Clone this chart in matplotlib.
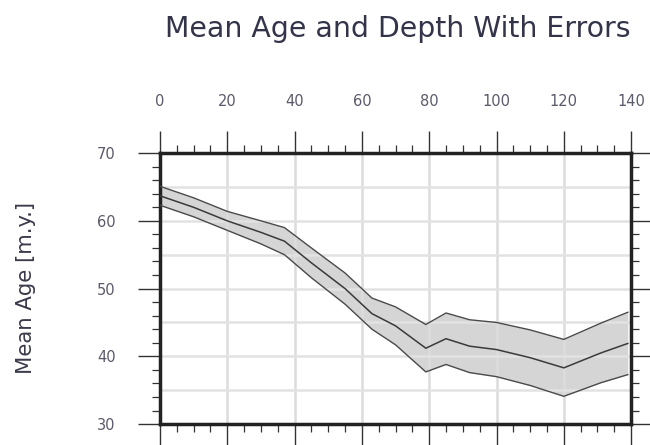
import matplotlib
matplotlib.use("Agg")
import matplotlib.pyplot as plt
import numpy as np
from matplotlib.ticker import MultipleLocator

plt.rcParams["font.family"] = ["DejaVu Sans"]

# Data
depth = [0, 10, 20, 30, 37, 45, 55, 63, 70, 79, 85, 92, 100, 110, 120, 131, 139]
mean_age = [63.7, 62.0, 60.0, 58.3, 57.0, 53.8, 50.0, 46.3, 44.5, 41.2, 42.6, 41.5, 41.0, 39.8, 38.3, 40.5, 41.9]
age_err = [1.4, 1.4, 1.4, 1.7, 2.0, 2.2, 2.3, 2.3, 2.8, 3.5, 3.8, 3.9, 4.0, 4.1, 4.2, 4.4, 4.6]

x_ticks = [0, 20, 40, 60, 80, 100, 120, 140]
y_ticks = [30, 40, 50, 60, 70]

title = "Mean Age and Depth With Errors"
ylabel = "Mean Age [m.y.]"

d = np.array(depth)
m = np.array(mean_age)
e = np.array(age_err)

fig = plt.figure(figsize=(6.5, 4.45), dpi=100)
ax = fig.add_axes([0.246, 0.047, 0.725, 0.609])

ax.set_xlim(0, 140)
ax.set_ylim(30, 70)

ax.fill_between(d, m - e, m + e, color="#c4c4c4", alpha=0.7, lw=0, zorder=1)
ax.plot(d, m + e, color="#4a4a4a", lw=1.0, zorder=3)
ax.plot(d, m - e, color="#4a4a4a", lw=1.0, zorder=3)
ax.plot(d, m, color="#3a3a3a", lw=1.1, zorder=3)

ax.set_xticks(x_ticks)
ax.set_yticks(y_ticks)
ax.xaxis.set_minor_locator(MultipleLocator(5))
ax.yaxis.set_minor_locator(MultipleLocator(2))

# grid
for gx in x_ticks:
    ax.axvline(gx, color="#dcdcdc", lw=1.8, zorder=2)
for gy in np.arange(30, 71, 5):
    ax.axhline(gy, color="#e2e2e2", lw=1.8, zorder=2)

ax.tick_params(which="both", direction="out", top=True, bottom=True, left=True, right=True,
               labeltop=True, labelbottom=False, labelleft=True, labelright=False,
               colors="#333333")
ax.tick_params(which="major", length=16, width=1.0, labelsize=10.5, pad=16)
ax.tick_params(which="minor", length=6, width=0.9)
for lab in ax.get_xticklabels() + ax.get_yticklabels():
    lab.set_color("#5a5a6a")

for sp in ax.spines.values():
    sp.set_linewidth(2.5)
    sp.set_color("#222222")

t = fig.text(0.612, 0.935, title, ha="center", va="center", fontsize=14, color="#33334a")
yl = fig.text(0.04, 0.35, ylabel, ha="center", va="center", rotation=90, fontsize=10, color="#3a3a4a")

# fit text extents to the reference proportions
fig.canvas.draw()
r = fig.canvas.get_renderer()
w = t.get_window_extent(r).width
t.set_fontsize(14 * 466.0 / w)
h = yl.get_window_extent(r).height
yl.set_fontsize(10 * 173.0 / h)
yl.set_position((0.04, 1 - 288.0 / 445))

fig.savefig("out.png", dpi=100)
